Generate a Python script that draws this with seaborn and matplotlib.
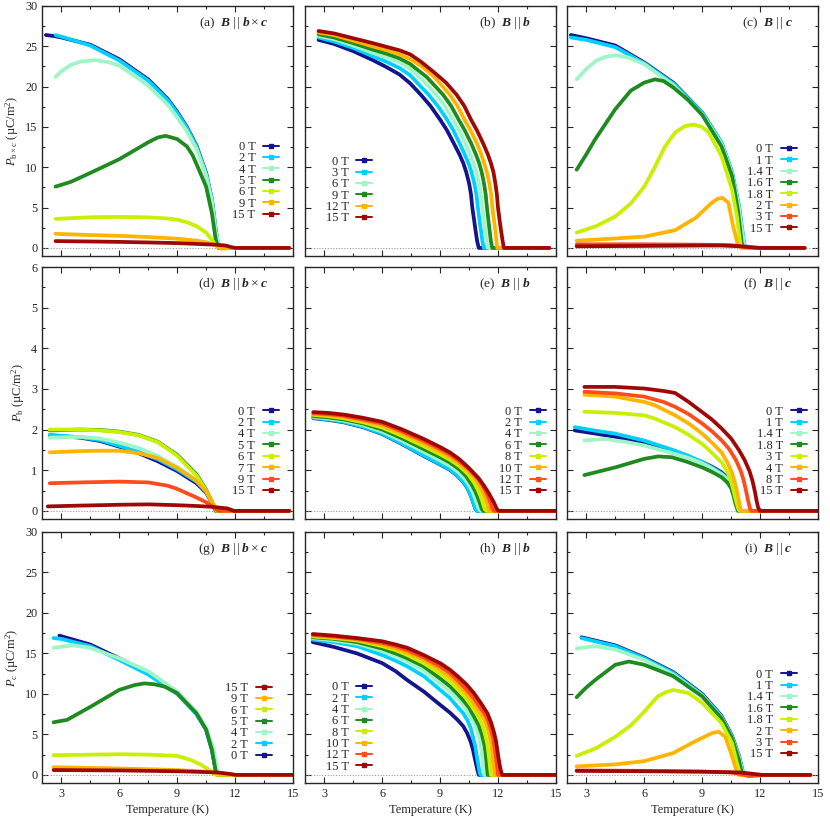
import pandas as pd
import seaborn as sns
import matplotlib.pyplot as plt
from matplotlib.lines import Line2D
from matplotlib.ticker import MultipleLocator

# colours used in the gnuplot-like palette of the paper
NAVY, CYAN, AQUA, GREEN = "#14148c", "#00d0ff", "#9ff5c6", "#1f8a1f"
LIME, ORANGE, RED, DARKRED = "#c8f000", "#ffb400", "#ff4c1c", "#a00808"

# ---- (a) P_bxc, B || bxc ----
fields_a = ["0 T", "2 T", "4 T", "5 T", "6 T", "9 T", "15 T"]
curves_a = [
    [(2.2, 26.4), (2.7, 26.25), (3, 26.1), (4.5, 25.2), (6, 23.4), (7.5, 20.9), (8.5, 18.5), (9, 16.9),
     (9.5, 15.0), (10, 12.7), (10.5, 9.3), (10.8, 6.0), (11.0, 2.2), (11.15, 0), (14.8, 0)],
    [(2.7, 26.4), (3, 26.2), (4.5, 25.1), (6, 23.25), (7.5, 20.75), (8.5, 18.35), (9, 16.75), (9.5, 14.9),
     (10, 12.6), (10.5, 9.2), (10.8, 5.9), (11.0, 2.1), (11.15, 0), (14.8, 0)],
    [(2.7, 21.2), (3.0, 21.9), (3.5, 22.7), (4.0, 23.1), (4.75, 23.3), (5.5, 23.0), (6, 22.6), (7, 21.0),
     (7.5, 20.1), (8.5, 17.8), (9, 16.2), (9.5, 14.5), (10, 12.3), (10.5, 9.0), (10.8, 5.8), (11.0, 2.0),
     (11.2, 0), (14.8, 0)],
    [(2.7, 7.6), (3.5, 8.2), (4.5, 9.3), (6, 11.0), (7, 12.4), (7.5, 13.1), (8.0, 13.7), (8.4, 13.9),
     (9, 13.5), (9.5, 12.6), (9.8, 11.5), (10.2, 9.3), (10.5, 7.6), (10.8, 4.3), (11.0, 1.0), (11.15, 0),
     (14.8, 0)],
    [(2.7, 3.6), (4.5, 3.8), (6, 3.85), (7.5, 3.8), (8.5, 3.65), (9, 3.5), (9.5, 3.2), (10, 2.7),
     (10.5, 1.9), (10.8, 1.0), (11.0, 0.3), (11.2, 0), (14.8, 0)],
    [(2.7, 1.75), (4.5, 1.6), (6, 1.5), (7.5, 1.35), (9, 1.15), (10, 0.9), (10.5, 0.7), (11, 0.35),
     (11.3, -0.1), (11.8, 0), (14.8, 0)],
    [(2.7, 0.85), (4.5, 0.8), (6, 0.75), (7.5, 0.68), (9, 0.6), (10, 0.5), (10.5, 0.45), (11, 0.4),
     (11.5, 0.3), (11.9, 0.05), (12.0, 0), (14.8, 0)],
]

# ---- (b) P_bxc, B || b ----
fields_b = ["0 T", "3 T", "6 T", "9 T", "12 T", "15 T"]
curves_b = [
    [(2.7, 25.8), (3.5, 25.3), (4.5, 24.4), (5.5, 23.3), (6.2, 22.45), (6.9, 21.5), (7.45, 20.4),
     (8.0, 19.0), (8.5, 17.6), (9.0, 15.9), (9.35, 14.6), (9.7, 13.0), (10.0, 11.6), (10.2, 10.5),
     (10.35, 9.4), (10.5, 8.0), (10.6, 6.6), (10.66, 5.1), (10.75, 3.6), (10.83, 2.2), (10.92, 0.8),
     (11.0, 0), (14.65, 0)],
    [(2.7, 26.1), (3.5, 25.6), (4.5, 24.8), (5.5, 23.8), (6.2, 23.1), (6.9, 22.3), (7.45, 21.4),
     (8.4, 19.0), (8.88, 17.6), (9.36, 15.9), (9.68, 14.6), (10.0, 13.0), (10.27, 11.6), (10.47, 10.5),
     (10.62, 9.4), (10.77, 8.0), (10.88, 6.6), (10.95, 5.1), (11.03, 3.6), (11.11, 2.2), (11.19, 0.8),
     (11.26, 0), (14.65, 0)],
    [(2.7, 26.3), (3.5, 25.9), (4.5, 25.1), (5.5, 24.2), (6.2, 23.65), (6.9, 23.0), (7.45, 22.2),
     (8.1, 20.8), (8.8, 19.0), (9.24, 17.6), (9.67, 15.9), (9.98, 14.6), (10.3, 13.0), (10.55, 11.6),
     (10.73, 10.5), (10.87, 9.4), (11.01, 8.0), (11.11, 6.6), (11.18, 5.1), (11.26, 3.6), (11.34, 2.2),
     (11.41, 0.8), (11.47, 0), (14.65, 0)],
    [(2.7, 26.5), (3.5, 26.1), (4.5, 25.4), (5.5, 24.6), (6.2, 24.1), (6.9, 23.5), (7.45, 22.8),
     (8.3, 21.2), (9.15, 19.0), (9.57, 17.6), (9.96, 15.9), (10.27, 14.6), (10.6, 13.0), (10.85, 11.6),
     (11.02, 10.5), (11.15, 9.4), (11.27, 8.0), (11.36, 6.6), (11.42, 5.1), (11.49, 3.6), (11.56, 2.2),
     (11.63, 0.8), (11.7, 0), (14.65, 0)],
    [(2.7, 26.7), (3.5, 26.4), (4.5, 25.7), (5.5, 25.0), (6.2, 24.55), (6.9, 24.0), (7.45, 23.4),
     (8.0, 22.6), (8.7, 21.2), (9.5, 19.0), (9.9, 17.6), (10.26, 15.9), (10.57, 14.6), (10.9, 13.0),
     (11.13, 11.6), (11.28, 10.5), (11.42, 9.4), (11.55, 8.0), (11.64, 6.6), (11.7, 5.1), (11.78, 3.6),
     (11.86, 2.2), (11.92, 0.8), (11.96, 0), (14.65, 0)],
    [(2.7, 26.9), (3.5, 26.6), (4.5, 26.0), (5.5, 25.4), (6.2, 24.95), (6.9, 24.5), (7.45, 24.0),
     (8.0, 23.1), (8.67, 21.8), (9.3, 20.5), (9.85, 19.0), (10.25, 17.6), (10.6, 15.9), (10.9, 14.6),
     (11.22, 13.0), (11.47, 11.6), (11.63, 10.5), (11.76, 9.4), (11.86, 8.0), (11.94, 6.6), (11.99, 5.1),
     (12.07, 3.6), (12.15, 2.2), (12.24, 0.8), (12.3, 0), (14.65, 0)],
]

# ---- (c) P_bxc, B || c ----
fields_c = ["0 T", "1 T", "1.4 T", "1.6 T", "1.8 T", "2 T", "3 T", "15 T"]
curves_c = [
    [(2.2, 26.4), (3, 26.0), (4.5, 25.1), (6, 23.0), (7.5, 20.5), (9, 16.8), (10, 13.0), (10.55, 9.3),
     (10.9, 5.1), (11.15, 0.6), (11.25, 0), (14.3, 0)],
    [(2.2, 26.1), (3, 25.8), (4.5, 24.9), (6, 22.9), (7.5, 20.4), (9, 16.8), (10, 13.1), (10.55, 9.4),
     (10.92, 5.1), (11.17, 0.6), (11.27, 0), (14.3, 0)],
    [(2.5, 20.9), (3.0, 22.2), (3.5, 23.2), (4.0, 23.7), (4.55, 23.9), (5.2, 23.6), (6, 22.8), (7.5, 20.2),
     (9, 16.6), (10, 12.9), (10.55, 9.2), (10.9, 5.0), (11.15, 0.6), (11.25, 0), (14.3, 0)],
    [(2.5, 9.7), (3.0, 11.6), (3.44, 13.4), (4.5, 17.2), (5.3, 19.5), (6, 20.5), (6.55, 20.9), (7.0, 20.7),
     (7.5, 19.9), (8.25, 18.4), (9, 16.5), (10, 12.6), (10.55, 8.9), (10.85, 4.7), (11.05, 0.6), (11.15, 0),
     (14.3, 0)],
    [(2.5, 1.9), (3.5, 2.7), (4.5, 3.9), (5.3, 5.5), (6, 7.6), (6.5, 9.8), (7.08, 12.6), (7.6, 14.3),
     (8.1, 15.1), (8.55, 15.3), (9.0, 15.0), (9.34, 14.3), (10, 11.4), (10.55, 7.2), (10.8, 3.9),
     (10.97, 0.6), (11.05, 0), (14.3, 0)],
    [(2.5, 0.9), (4, 1.1), (6, 1.4), (7.6, 2.2), (8.65, 3.7), (9.5, 5.6), (9.8, 6.1), (10.06, 6.2),
     (10.36, 5.6), (10.6, 2.7), (10.85, 0.4), (11.0, 0), (14.3, 0)],
    [(2.5, 0.45), (6, 0.45), (9, 0.4), (10.5, 0.35), (11, 0.2), (11.5, 0.05), (12, 0), (14.3, 0)],
    [(2.5, 0.2), (6, 0.25), (9, 0.3), (10, 0.3), (11, 0.2), (11.5, 0.1), (12, 0), (14.3, 0)],
]

# ---- (d) P_b, B || bxc ----
fields_d = ["0 T", "2 T", "4 T", "5 T", "6 T", "7 T", "9 T", "15 T"]
curves_d = [
    [(2.4, 1.86), (4, 1.8), (5, 1.72), (6, 1.58), (7, 1.42), (8, 1.22), (9, 0.98), (10, 0.68), (10.5, 0.45),
     (10.8, 0.2), (11, 0), (14.8, 0)],
    [(2.4, 1.87), (4, 1.81), (5, 1.74), (6, 1.6), (7, 1.45), (8, 1.27), (9, 1.02), (10, 0.72), (10.5, 0.48),
     (10.8, 0.22), (11.0, 0), (14.8, 0)],
    [(2.4, 1.8), (4, 1.82), (5, 1.78), (6, 1.68), (7, 1.55), (8, 1.35), (9, 1.08), (10, 0.76), (10.5, 0.5),
     (10.8, 0.22), (11.0, 0), (14.8, 0)],
    [(2.4, 1.98), (4, 2.0), (5, 1.99), (6, 1.95), (7, 1.87), (8, 1.7), (9, 1.38), (10, 0.9), (10.5, 0.52),
     (10.8, 0.22), (11.0, 0), (14.8, 0)],
    [(2.4, 2.0), (4, 2.0), (5, 1.98), (6, 1.94), (7, 1.86), (8, 1.69), (9, 1.36), (10, 0.87), (10.5, 0.5),
     (10.8, 0.22), (11.05, 0), (14.8, 0)],
    [(2.4, 1.44), (4, 1.47), (5, 1.48), (6, 1.48), (7, 1.42), (8, 1.3), (9, 1.06), (10, 0.74), (10.5, 0.48),
     (10.8, 0.22), (11.1, 0), (14.8, 0)],
    [(2.4, 0.68), (4, 0.7), (6, 0.72), (7.5, 0.70), (8.5, 0.62), (9, 0.54), (10, 0.33), (10.55, 0.2),
     (10.9, 0.08), (11.15, 0), (14.8, 0)],
    [(2.3, 0.11), (4, 0.13), (6, 0.15), (7.5, 0.16), (9, 0.14), (10, 0.12), (10.8, 0.1), (11.6, 0.06),
     (11.95, 0), (14.8, 0)],
]

# ---- (e) P_b, B || b ----
fields_e = ["0 T", "2 T", "4 T", "6 T", "8 T", "10 T", "12 T", "15 T"]
curves_e = [
    [(2.43, 2.28), (3.2, 2.24), (4, 2.18), (5, 2.06), (6, 1.89), (7, 1.65), (8.15, 1.35), (9, 1.14),
     (9.5, 1.01), (9.9, 0.86), (10.2, 0.71), (10.4, 0.57), (10.55, 0.42), (10.66, 0.28), (10.76, 0.14),
     (10.83, 0.04), (10.92, 0), (15, 0)],
    [(2.43, 2.29), (3.2, 2.25), (4, 2.19), (5, 2.07), (6, 1.9), (7, 1.66), (8.15, 1.36), (9, 1.15),
     (9.5, 1.02), (9.9, 0.87), (10.2, 0.72), (10.4, 0.58), (10.55, 0.43), (10.66, 0.29), (10.76, 0.15),
     (10.83, 0.04), (10.92, 0), (15, 0)],
    [(2.43, 2.31), (3.2, 2.27), (4, 2.22), (5, 2.11), (6, 1.95), (7, 1.73), (8.15, 1.45), (9, 1.24),
     (9.5, 1.11), (9.9, 0.97), (10.25, 0.8), (10.5, 0.63), (10.68, 0.47), (10.8, 0.32), (10.92, 0.16),
     (11.0, 0.05), (11.09, 0), (15, 0)],
    [(2.43, 2.33), (3.2, 2.3), (4, 2.25), (5, 2.15), (6, 2.0), (7, 1.79), (8.15, 1.52), (9, 1.32),
     (9.5, 1.19), (10, 1.02), (10.35, 0.85), (10.6, 0.67), (10.8, 0.5), (10.95, 0.33), (11.07, 0.17),
     (11.15, 0.05), (11.23, 0), (15, 0)],
    [(2.43, 2.36), (3.2, 2.33), (4, 2.28), (5, 2.18), (6, 2.05), (7, 1.85), (8.15, 1.59), (9, 1.39),
     (9.5, 1.26), (10, 1.1), (10.45, 0.9), (10.75, 0.7), (10.95, 0.52), (11.1, 0.35), (11.22, 0.18),
     (11.3, 0.05), (11.4, 0), (15, 0)],
    [(2.43, 2.38), (3.2, 2.35), (4, 2.31), (5, 2.22), (6, 2.1), (7, 1.91), (8.15, 1.66), (9, 1.46),
     (9.5, 1.33), (10, 1.16), (10.5, 0.96), (10.9, 0.74), (11.12, 0.55), (11.3, 0.36), (11.42, 0.19),
     (11.5, 0.05), (11.58, 0), (15, 0)],
    [(2.43, 2.40), (3.2, 2.38), (4, 2.34), (5, 2.25), (6, 2.15), (7, 1.96), (8.15, 1.72), (9, 1.52),
     (9.5, 1.39), (10, 1.22), (10.5, 1.02), (11, 0.77), (11.25, 0.58), (11.45, 0.39), (11.6, 0.2),
     (11.7, 0.06), (11.78, 0), (15, 0)],
    [(2.43, 2.43), (3.2, 2.41), (4, 2.37), (5, 2.29), (6, 2.19), (7, 2.01), (8.15, 1.77), (9, 1.57),
     (9.5, 1.44), (10, 1.27), (10.5, 1.05), (11, 0.8), (11.3, 0.6), (11.5, 0.45), (11.7, 0.28),
     (11.8, 0.19), (11.9, 0.08), (11.98, 0.02), (12.05, 0), (15, 0)],
]

# ---- (f) P_b, B || c ----
fields_f = ["0 T", "1 T", "1.4 T", "1.8 T", "3 T", "4 T", "8 T", "15 T"]
curves_f = [
    [(2.4, 1.98), (3.5, 1.9), (4.5, 1.82), (6, 1.65), (7.6, 1.44), (8.3, 1.33), (9, 1.2), (9.5, 1.09),
     (10, 0.95), (10.3, 0.82), (10.55, 0.62), (10.7, 0.42), (10.82, 0.25), (10.92, 0.08), (11.0, 0),
     (15, 0)],
    [(2.4, 2.06), (3.5, 1.97), (4.5, 1.9), (6, 1.73), (7.6, 1.48), (8.3, 1.35), (9, 1.2), (9.5, 1.07),
     (10, 0.92), (10.3, 0.8), (10.55, 0.62), (10.7, 0.4), (10.82, 0.2), (10.92, 0.05), (10.97, 0), (15, 0)],
    [(2.9, 1.73), (3.96, 1.77), (5, 1.7), (6, 1.61), (7.6, 1.40), (8.3, 1.3), (9, 1.17), (9.5, 1.05),
     (10, 0.9), (10.3, 0.78), (10.55, 0.6), (10.7, 0.4), (10.82, 0.2), (10.92, 0.05), (10.97, 0), (15, 0)],
    [(2.9, 0.88), (4.5, 1.07), (6, 1.28), (6.73, 1.34), (7.42, 1.32), (8.2, 1.21), (9, 1.07), (9.5, 0.96),
     (10, 0.83), (10.3, 0.7), (10.5, 0.56), (10.62, 0.38), (10.72, 0.18), (10.85, 0), (15, 0)],
    [(2.9, 2.44), (4.5, 2.41), (6, 2.35), (6.55, 2.27), (7.6, 2.06), (8.3, 1.87), (9, 1.65), (9.5, 1.43),
     (10, 1.2), (10.3, 0.97), (10.5, 0.72), (10.65, 0.45), (10.78, 0.2), (10.88, 0.04), (10.95, 0), (15, 0)],
    [(2.9, 2.86), (4.5, 2.81), (6, 2.68), (6.55, 2.6), (7.6, 2.35), (8.3, 2.15), (9, 1.9), (9.5, 1.68),
     (10, 1.44), (10.3, 1.2), (10.55, 0.93), (10.72, 0.65), (10.85, 0.38), (10.95, 0.12), (11.02, 0),
     (15, 0)],
    [(2.9, 2.93), (4.5, 2.89), (6, 2.81), (7, 2.68), (7.6, 2.56), (8.3, 2.38), (9, 2.15), (9.5, 1.96),
     (10, 1.74), (10.4, 1.52), (10.75, 1.25), (11.0, 0.98), (11.15, 0.75), (11.27, 0.5), (11.38, 0.25),
     (11.47, 0.07), (11.55, 0), (15, 0)],
    [(2.9, 3.05), (4.5, 3.05), (6, 3.01), (7, 2.95), (7.6, 2.9), (8.3, 2.68), (9, 2.43), (9.5, 2.25),
     (10, 2.03), (10.5, 1.78), (10.9, 1.5), (11.2, 1.25), (11.45, 0.98), (11.6, 0.75), (11.72, 0.5),
     (11.82, 0.25), (11.9, 0.08), (12.0, 0), (15, 0)],
]

# ---- (g) P_c, B || bxc ----
fields_g = ["0 T", "2 T", "4 T", "5 T", "6 T", "9 T", "15 T"]
curves_g = [
    [(2.9, 17.2), (4.5, 16.1), (6, 14.4), (7.5, 12.6), (9, 10.1), (10, 7.6), (10.5, 5.6), (10.8, 3.1),
     (11, 0.6), (11.1, 0), (15, 0)],
    [(2.6, 16.9), (3, 16.8), (4.5, 15.9), (6, 14.2), (7.5, 12.4), (9, 10.0), (10, 7.5), (10.5, 5.6),
     (10.8, 3.1), (11, 0.6), (11.1, 0), (15, 0)],
    [(2.6, 15.7), (3.6, 16.0), (4.5, 15.7), (6, 14.4), (7.5, 12.8), (9, 10.3), (10, 7.8), (10.5, 5.8),
     (10.9, 3.1), (11.05, 0.8), (11.15, 0), (15, 0)],
    [(2.6, 6.5), (3.3, 6.8), (4.5, 8.4), (6, 10.5), (6.8, 11.1), (7.3, 11.3), (7.8, 11.2), (8.35, 10.9),
     (9, 10.1), (10, 7.6), (10.5, 5.6), (10.8, 3.1), (11.0, 0.4), (11.1, 0), (15, 0)],
    [(2.6, 2.43), (4.5, 2.5), (6, 2.55), (7.5, 2.5), (9, 2.35), (9.7, 1.85), (10.2, 1.3), (10.55, 0.8),
     (10.9, 0.2), (11.0, 0), (15, 0)],
    [(2.6, 0.95), (6, 0.8), (9, 0.6), (10.5, 0.4), (11.1, 0.2), (11.6, 0), (15, 0)],
    [(2.6, 0.6), (6, 0.55), (9, 0.45), (10.5, 0.35), (11.1, 0.3), (11.8, 0.1), (12.05, 0), (15, 0)],
]

# ---- (h) P_c, B || b ----
fields_h = ["0 T", "2 T", "4 T", "6 T", "8 T", "10 T", "12 T", "15 T"]
curves_h = [
    [(2.4, 16.4), (3.5, 15.8), (4.7, 15.0), (6, 13.8), (6.7, 12.8), (7.3, 11.7), (8.15, 10.3), (9, 8.65),
     (9.5, 7.7), (9.9, 6.8), (10.2, 6.0), (10.4, 5.15), (10.58, 4.1), (10.7, 3.1), (10.78, 2.2),
     (10.85, 1.45), (10.93, 0.6), (11.0, 0), (15, 0)],
    [(2.4, 16.7), (3.5, 16.4), (4.7, 15.9), (6, 14.8), (6.7, 14.1), (7.3, 13.4), (8.15, 12.2), (9, 10.5),
     (9.5, 9.5), (9.9, 8.4), (10.2, 7.6), (10.4, 6.8), (10.58, 5.8), (10.7, 4.7), (10.82, 3.5), (10.9, 2.3),
     (10.98, 1.2), (11.05, 0.2), (11.1, 0), (15, 0)],
    [(2.4, 16.9), (3.5, 16.6), (4.7, 16.2), (6, 15.3), (6.7, 14.7), (7.3, 14.0), (8.15, 12.9), (9, 11.3),
     (9.5, 10.3), (9.9, 9.4), (10.2, 8.6), (10.4, 7.9), (10.7, 6.6), (10.9, 5.6), (11.02, 4.6), (11.1, 3.6),
     (11.16, 2.5), (11.2, 1.5), (11.25, 0.5), (11.28, 0), (15, 0)],
    [(2.4, 17.0), (3.5, 16.8), (4.7, 16.4), (6, 15.6), (6.7, 15.0), (7.3, 14.4), (8.15, 13.4), (9, 11.9),
     (9.5, 10.95), (9.9, 10.0), (10.2, 9.2), (10.5, 8.3), (10.8, 7.0), (11.0, 6.1), (11.17, 4.9),
     (11.3, 3.6), (11.36, 2.5), (11.4, 1.5), (11.44, 0.5), (11.46, 0), (15, 0)],
    [(2.4, 17.1), (3.5, 16.9), (4.7, 16.6), (6, 15.9), (6.7, 15.4), (7.3, 14.8), (8.15, 13.8), (9, 12.5),
     (9.5, 11.6), (9.9, 10.6), (10.3, 9.6), (10.6, 8.6), (10.9, 7.5), (11.15, 6.4), (11.32, 5.1),
     (11.45, 3.7), (11.51, 2.6), (11.56, 1.5), (11.6, 0.5), (11.63, 0), (15, 0)],
    [(2.4, 17.2), (3.5, 17.0), (4.7, 16.7), (6, 16.1), (6.7, 15.6), (7.3, 15.1), (8.15, 14.2), (9, 13.0),
     (9.5, 12.1), (9.9, 11.2), (10.3, 10.2), (10.65, 9.1), (11.0, 7.9), (11.3, 6.8), (11.5, 5.4),
     (11.65, 3.8), (11.7, 2.6), (11.75, 1.5), (11.8, 0.5), (11.83, 0), (15, 0)],
    [(2.4, 17.3), (3.5, 17.1), (4.7, 16.8), (6, 16.3), (6.7, 15.9), (7.3, 15.4), (8.15, 14.5), (9, 13.4),
     (9.5, 12.6), (9.9, 11.7), (10.3, 10.7), (10.7, 9.6), (11.05, 8.4), (11.4, 7.2), (11.6, 5.9),
     (11.75, 4.5), (11.83, 3.2), (11.9, 2.0), (11.96, 0.8), (12.0, 0), (15, 0)],
    [(2.4, 17.4), (3.5, 17.2), (4.7, 16.9), (6, 16.5), (6.7, 16.1), (7.3, 15.7), (8.15, 14.8), (9, 13.8),
     (9.5, 13.0), (9.9, 12.2), (10.35, 11.2), (10.75, 10.1), (11.1, 8.9), (11.45, 7.6), (11.65, 6.4),
     (11.8, 5.15), (11.9, 4.1), (11.96, 3.1), (12.03, 2.0), (12.1, 1.0), (12.17, 0.3), (12.22, 0),
     (15, 0)],
]

# ---- (i) P_c, B || c ----
fields_i = ["0 T", "1 T", "1.4 T", "1.6 T", "1.8 T", "2 T", "3 T", "15 T"]
curves_i = [
    [(2.75, 17.0), (4.5, 16.0), (6, 14.5), (7.5, 12.7), (9, 10.0), (10, 7.3), (10.55, 4.8), (10.9, 2.4),
     (11.1, 0.4), (11.2, 0), (14.6, 0)],
    [(2.75, 16.9), (4.5, 15.9), (6, 14.4), (7.5, 12.6), (9, 9.9), (10, 7.2), (10.55, 4.7), (10.9, 2.3),
     (11.1, 0.4), (11.2, 0), (14.6, 0)],
    [(2.5, 15.6), (3.45, 15.9), (4.5, 15.5), (6, 14.2), (7.5, 12.4), (9, 9.8), (10, 7.1), (10.55, 4.6),
     (10.9, 2.2), (11.08, 0.3), (11.15, 0), (14.6, 0)],
    [(2.5, 9.6), (3.0, 10.8), (3.45, 11.7), (4.5, 13.6), (5.2, 14.0), (6, 13.6), (7.5, 12.2), (9, 9.7),
     (10, 7.0), (10.55, 4.5), (10.9, 1.85), (11.05, 0.2), (11.1, 0), (14.6, 0)],
    [(2.5, 2.35), (3.5, 3.3), (4.5, 4.7), (5.3, 6.1), (6, 7.8), (6.7, 9.7), (7.1, 10.2), (7.5, 10.5),
     (8.3, 10.1), (9, 8.9), (10, 6.4), (10.55, 3.9), (10.8, 1.45), (10.95, 0.2), (11.0, 0), (14.6, 0)],
    [(2.5, 1.05), (4.5, 1.3), (6, 1.7), (7.5, 2.7), (8.6, 4.1), (9.5, 5.15), (9.85, 5.35), (10.2, 4.7),
     (10.55, 2.3), (10.8, 0.3), (10.9, 0), (14.6, 0)],
    [(2.5, 0.55), (6, 0.5), (9, 0.4), (10.5, 0.3), (11, 0.1), (11.4, -0.15), (11.8, -0.1), (12.2, 0),
     (14.6, 0)],
    [(2.5, 0.5), (6, 0.45), (9, 0.4), (11, 0.3), (11.75, 0.1), (12.1, 0), (14.6, 0)],
]

FULL = [NAVY, CYAN, AQUA, GREEN, LIME, ORANGE, RED, DARKRED]
SEVEN = [NAVY, CYAN, AQUA, GREEN, LIME, ORANGE, DARKRED]
SIX = [NAVY, CYAN, AQUA, GREEN, ORANGE, DARKRED]

BXC = r"$\mathbfit{B}\;|\,|\;\mathbfit{b}\times\mathbfit{c}$"
BB = r"$\mathbfit{B}\;|\,|\;\mathbfit{b}$"
BC = r"$\mathbfit{B}\;|\,|\;\mathbfit{c}$"

# tag, field direction, fields, curves, colours, legend anchor, reversed legend
panels = [
    ("(a)", BXC, fields_a, curves_a, SEVEN, (0.945, 0.30), False),
    ("(b)", BB, fields_b, curves_b, SIX, (0.268, 0.264), False),
    ("(c)", BC, fields_c, curves_c, FULL, (0.916, 0.268), False),
    ("(d)", BXC, fields_d, curves_d, FULL, (0.944, 0.268), False),
    ("(e)", BB, fields_e, curves_e, FULL, (0.96, 0.268), False),
    ("(f)", BC, fields_f, curves_f, FULL, (0.956, 0.268), False),
    ("(g)", BXC, fields_g, curves_g, SEVEN, (0.916, 0.243), True),
    ("(h)", BB, fields_h, curves_h, FULL, (0.268, 0.223), False),
    ("(i)", BC, fields_i, curves_i, FULL, (0.916, 0.273), False),
]

ylabels = [r"$P_{\mathrm{b}\times\mathrm{c}}$ (µC/m$^2$)", r"$P_{\mathrm{b}}$ (µC/m$^2$)",
           r"$P_{\mathrm{c}}$ (µC/m$^2$)"]

sns.set_style("ticks")
plt.rcParams["font.family"] = ["Liberation Serif", "DejaVu Serif"]
plt.rcParams["mathtext.fontset"] = "custom"
plt.rcParams["mathtext.rm"] = "Liberation Serif"
plt.rcParams["mathtext.it"] = "Liberation Serif:italic"
plt.rcParams["mathtext.bf"] = "Liberation Serif:bold"
plt.rcParams["mathtext.bfit"] = "Liberation Serif:italic:bold"
FS = 8.5

fig = plt.figure(figsize=(8.3, 8.16), dpi=100)
W, H = 830, 816
col_left = [42, 305, 567]
col_w = 251
rows = [(6, 256), (267, 519), (532, 783)]


def to_frame(fields, curves):
    recs = []
    for f, pts in zip(fields, curves):
        for t, p in pts:
            recs.append({"field": f, "T": t, "P": p})
    return pd.DataFrame(recs)


for k, (tag, bdir, fields, curves, colors, anchor, rev) in enumerate(panels):
    r, c = divmod(k, 3)
    top, bot = rows[r]
    ax = fig.add_axes([col_left[c] / W, (H - bot) / H, col_w / W, (bot - top) / H])

    ax.axhline(0, color="0.6", lw=0.8, ls=(0, (1, 1.5)), zorder=1)
    df = to_frame(fields, curves)
    sns.lineplot(data=df, x="T", y="P", hue="field", hue_order=fields, palette=colors,
                 estimator=None, sort=False, lw=2.7, legend=False, ax=ax, zorder=2)

    ax.set_xlim(2, 15)
    ax.xaxis.set_major_locator(MultipleLocator(3))
    ax.xaxis.set_minor_locator(MultipleLocator(1.5))
    if r == 1:
        ax.set_ylim(-0.2, 6)
        ax.yaxis.set_major_locator(MultipleLocator(1))
        ax.yaxis.set_minor_locator(MultipleLocator(0.5))
    else:
        ax.set_ylim(-1, 30)
        ax.yaxis.set_major_locator(MultipleLocator(5))
        ax.yaxis.set_minor_locator(MultipleLocator(2.5))
    ax.tick_params(which="both", direction="in", top=True, right=True, width=0.8,
                   labelsize=FS + 0.3, pad=3.5)
    ax.tick_params(which="major", length=4)
    ax.tick_params(which="minor", length=2.2)
    for s in ax.spines.values():
        s.set_linewidth(1.0)

    if c == 0:
        ax.set_ylabel(ylabels[r], fontsize=FS + 0.5, labelpad=3)
    else:
        ax.set_ylabel("")
        ax.tick_params(labelleft=False)
    if r == 2:
        ax.set_xlabel("Temperature (K)", fontsize=FS + 0.5, labelpad=3)
    else:
        ax.set_xlabel("")
        ax.tick_params(labelbottom=False)

    ax.text(0.90, 0.932, tag + "  " + bdir, transform=ax.transAxes, ha="right", va="center",
            fontsize=FS + 1.2)

    handles = [Line2D([], [], color=col, lw=1.4, marker="s", ms=2.6) for col in colors]
    labels = list(fields)
    if rev:
        handles, labels = handles[::-1], labels[::-1]
    ax.legend(handles, labels, loc="center right", bbox_to_anchor=anchor, frameon=False,
              markerfirst=False, fontsize=FS + 0.5, handlelength=1.3, handletextpad=0.6,
              labelspacing=-0.05, borderpad=0, borderaxespad=0)

fig.savefig("out.png", dpi=100)
